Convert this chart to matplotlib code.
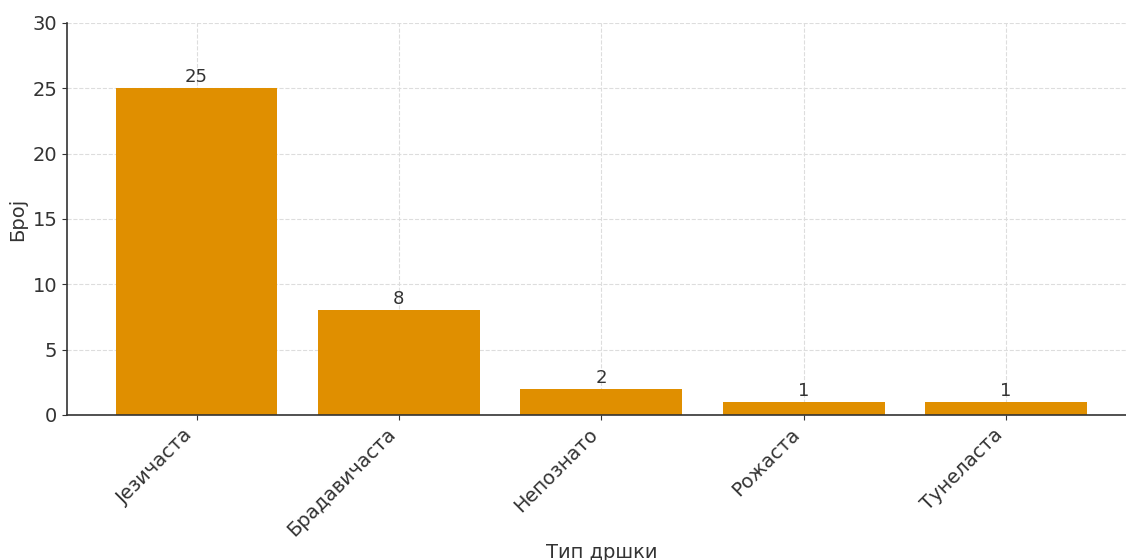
import matplotlib.pyplot as plt

# Datos
categorias = ["Језичаста", "Брадавичаста", "Непознато", "Рожаста", "Тунеласта"]
valores = [25, 8, 2, 1, 1]

fig = plt.figure(figsize=(11.26, 5.6), dpi=100)
ax = fig.add_axes([0.0595, 0.259, 0.949, 0.7])

barras = ax.bar(categorias, valores, width=0.8, color="#E08F00", zorder=2)

for b, v in zip(barras, valores):
    ax.text(b.get_x() + b.get_width() / 2, v + 0.15, str(v),
            ha="center", va="bottom", fontsize=13, color="#333333", zorder=3)

ax.set_ylim(0, 30)
ax.set_yticks([0, 5, 10, 15, 20, 25, 30])
ax.grid(True, linestyle="--", color="#dddddd", linewidth=0.8, zorder=0)

ax.spines["top"].set_visible(False)
ax.spines["right"].set_visible(False)
for s in ["left", "bottom"]:
    ax.spines[s].set_color("#333333")
    ax.spines[s].set_linewidth(1.2)

ax.tick_params(axis="both", labelsize=14, colors="#333333")
plt.setp(ax.get_xticklabels(), rotation=45, ha="right")

ax.set_ylabel("Број", fontsize=14, color="#333333")
ax.set_xlabel("Тип дршки", fontsize=14, color="#333333", labelpad=2)

fig.savefig("out.png", dpi=100)
